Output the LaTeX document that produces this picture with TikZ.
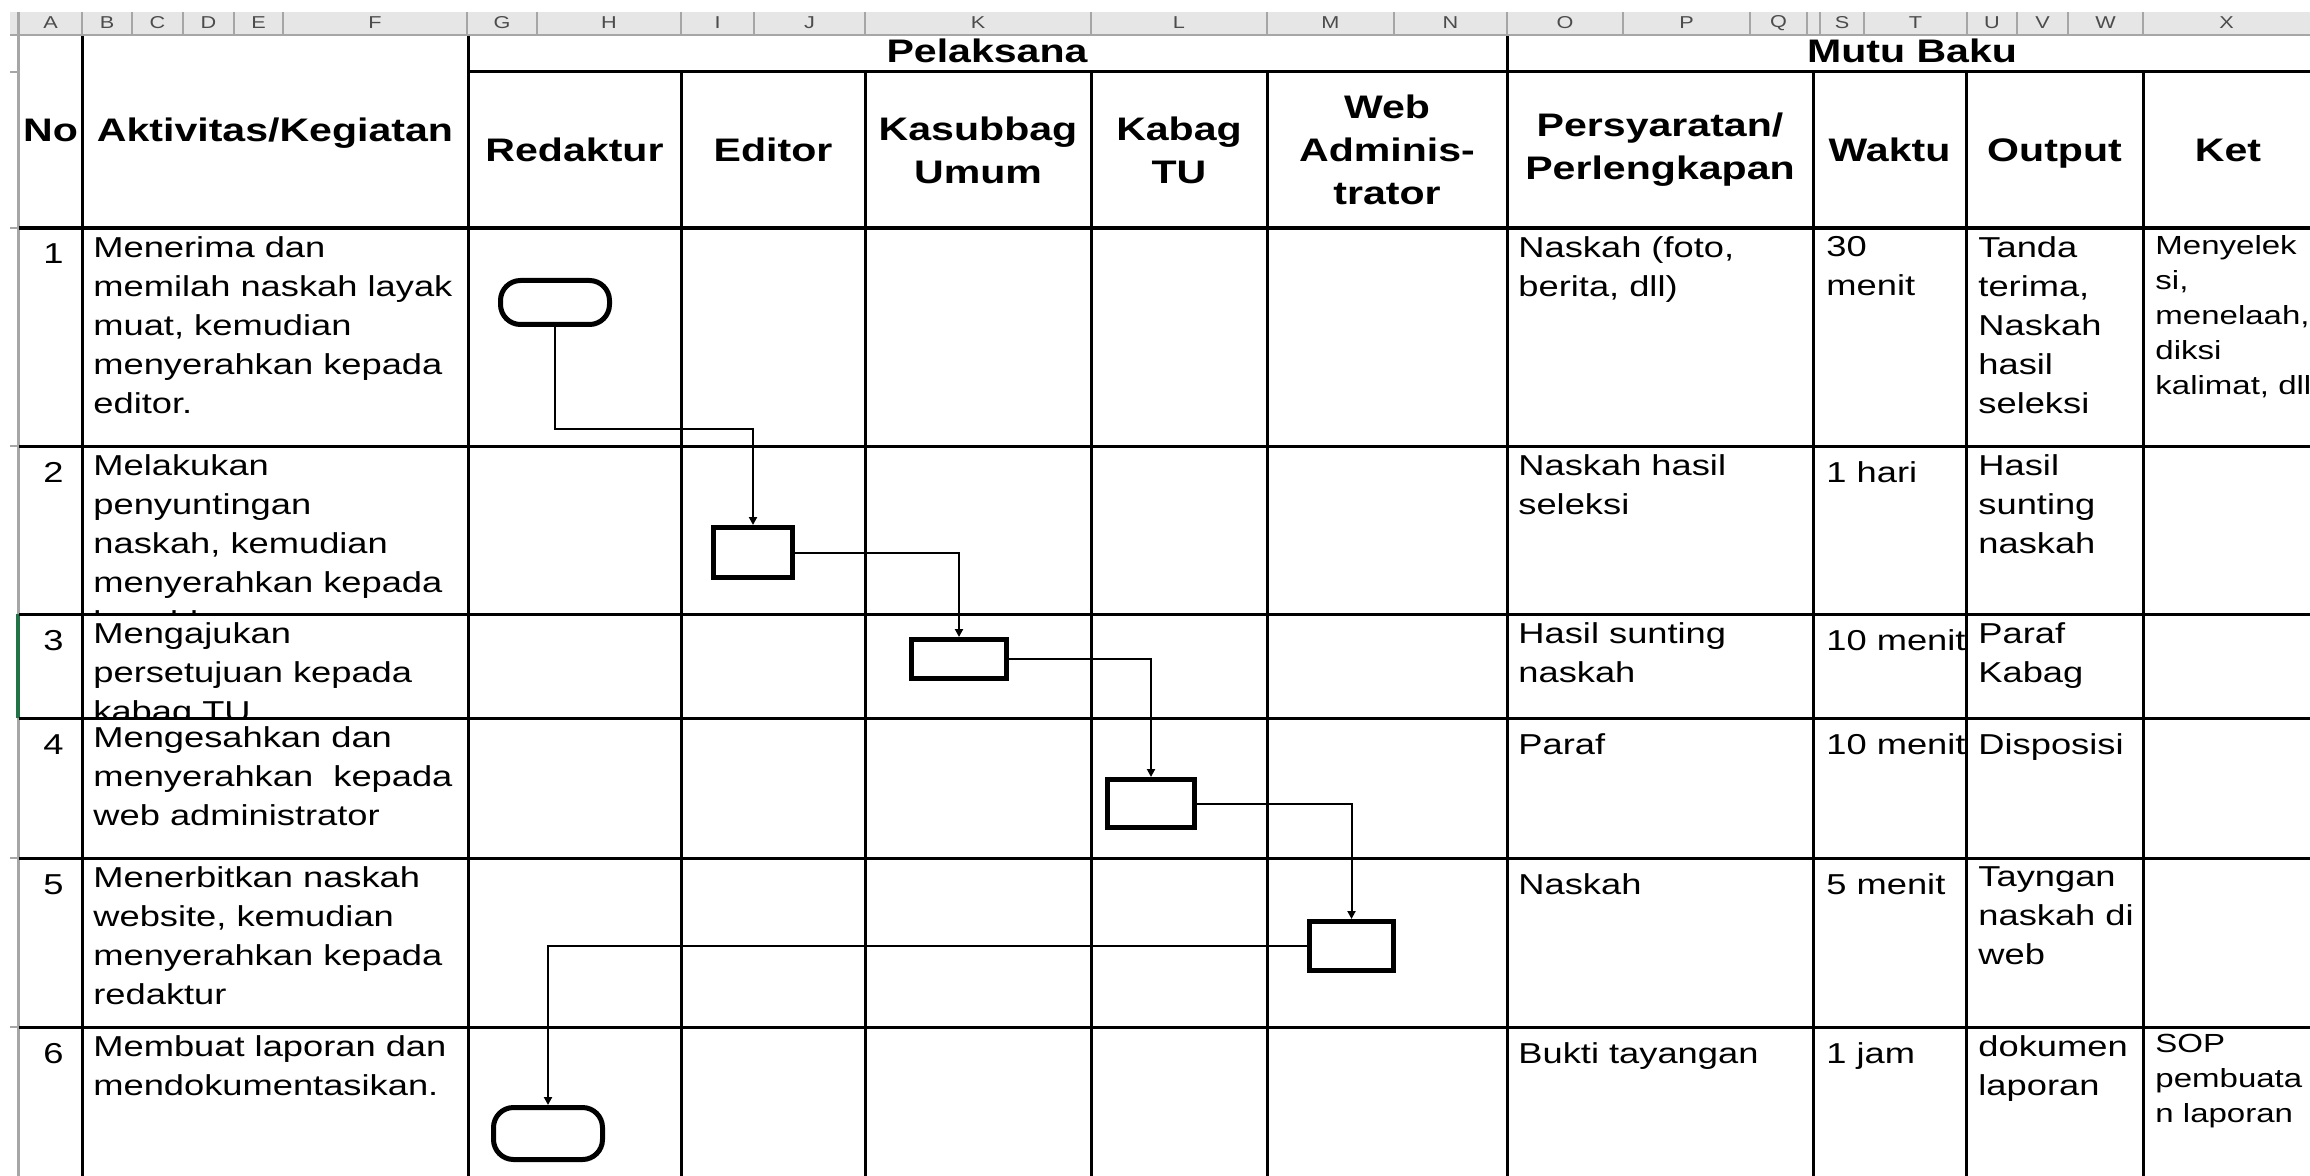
\documentclass[tikz,border=0pt]{standalone}
\usepackage{fontspec}
\setmainfont{Liberation Sans}[FakeStretch=1.26]
\usepackage{tikz}
\usetikzlibrary{arrows.meta}

\definecolor{xlgreen}{HTML}{217346}
\definecolor{xlbar}{HTML}{E6E6E6}
\definecolor{xlgrid}{HTML}{A6A6A6}
\newcommand{\bodyfont}{\fontsize{14.4pt}{19.5pt}\selectfont}
\newcommand{\ketfont}{\fontsize{13.1pt}{17.5pt}\selectfont}
\newcommand{\headfont}{\fontsize{16.3pt}{21.5pt}\selectfont\bfseries}
\newcommand{\colfont}{\fontsize{8.6pt}{10pt}\selectfont}

\begin{document}
\begin{tikzpicture}[x=0.5pt, y=-0.5pt,
    cell/.style={anchor=north west, inner sep=0pt, align=left, font=\bodyfont, execute at begin node=\rule{0pt}{14pt}},
    ket/.style={cell, font=\ketfont},
    num/.style={anchor=base east, inner sep=0pt, font=\bodyfont},
    head/.style={align=center, inner sep=0pt, font=\headfont},
    colhead/.style={inner sep=0pt, font=\colfont, text=black!70},
    grid/.style={line width=1.5pt},
    proc/.style={draw, line width=2.5pt, fill=white, inner sep=0pt},
    term/.style={proc, rounded corners=10pt},
    flow/.style={line width=1pt, -{Triangle[length=4pt, width=4pt]}}]
      \useasboundingbox (0,0) rectangle (2310,1176);

      \fill[xlbar] (10,12) rectangle (2310,36);
      \draw[xlgrid, line width=1pt] (10,35) -- (2310,35);
      \draw[xlgrid, line width=1pt] (82,12) -- (82,36) (132,12) -- (132,36) (183,12) -- (183,36)
        (234,12) -- (234,36) (283,12) -- (283,36) (467,12) -- (467,36) (537,12) -- (537,36)
        (681,12) -- (681,36) (754,12) -- (754,36) (865,12) -- (865,36) (1091,12) -- (1091,36)
        (1267,12) -- (1267,36) (1394,12) -- (1394,36) (1507,12) -- (1507,36) (1623,12) -- (1623,36)
        (1750,12) -- (1750,36) (1807,12) -- (1807,36) (1820,12) -- (1820,36) (1864,12) -- (1864,36)
        (1967,12) -- (1967,36) (2017,12) -- (2017,36) (2068,12) -- (2068,36) (2143,12) -- (2143,36);
      \node[colhead] (hA) at (50.5, 23) {A};
      \node[colhead] (hB) at (107, 23) {B};
      \node[colhead] (hC) at (157.5, 23) {C};
      \node[colhead] (hD) at (208.5, 23) {D};
      \node[colhead] (hE) at (258.5, 23) {E};
      \node[colhead] (hF) at (375, 23) {F};
      \node[colhead] (hG) at (502, 23) {G};
      \node[colhead] (hH) at (609, 23) {H};
      \node[colhead] (hI) at (717.5, 23) {I};
      \node[colhead] (hJ) at (809.5, 23) {J};
      \node[colhead] (hK) at (978, 23) {K};
      \node[colhead] (hL) at (1179, 23) {L};
      \node[colhead] (hM) at (1330.5, 23) {M};
      \node[colhead] (hN) at (1450.5, 23) {N};
      \node[colhead] (hO) at (1565, 23) {O};
      \node[colhead] (hP) at (1686.5, 23) {P};
      \node[colhead] (hQ) at (1778.5, 23) {Q};
      \node[colhead] (hS) at (1842, 23) {S};
      \node[colhead] (hT) at (1915.5, 23) {T};
      \node[colhead] (hU) at (1992, 23) {U};
      \node[colhead] (hV) at (2042.5, 23) {V};
      \node[colhead] (hW) at (2105.5, 23) {W};
      \node[colhead] (hX) at (2226.5, 23) {X};

      \draw[xlgrid, line width=1.5pt] (18.5,12) -- (18.5,1176);
      \draw[xlgrid, line width=1pt] (10,72) -- (19,72) (10,228) -- (19,228) (10,446) -- (19,446)
        (10,858) -- (19,858) (10,1027) -- (19,1027);
      \draw[xlgreen, line width=2pt] (17.5,614) -- (17.5,718);

      \draw[grid] (82,36) -- (82,1176) (468,36) -- (468,1176) (681,72) -- (681,1176)
        (865,72) -- (865,1176) (1091,72) -- (1091,1176) (1267,72) -- (1267,1176)
        (1507,36) -- (1507,1176) (1813,72) -- (1813,1176) (1966,72) -- (1966,1176)
        (2143,72) -- (2143,1176);
      \draw[grid] (468,72) -- (2310,72) (19,446) -- (2310,446) (19,614) -- (2310,614)
        (19,718) -- (2310,718) (19,858) -- (2310,858) (19,1027) -- (2310,1027);
      \draw[line width=2pt] (19,228) -- (2310,228);

      \node[head, anchor=base] (no) at (50.5, 142) {No};
      \node[head, anchor=base] (akt) at (275, 142) {Aktivitas/Kegiatan};
      \node[head, anchor=base] (pel) at (987, 63) {Pelaksana};
      \node[head, anchor=base] (mutu) at (1912, 63) {Mutu Baku};
      \node[head, anchor=base] (red) at (574.5, 162) {Redaktur};
      \node[head, anchor=base] (edi) at (773, 162) {Editor};
      \node[head] (kas) at (978, 150) {Kasubbag\\Umum};
      \node[head] (kab) at (1179, 150) {Kabag\\TU};
      \node[head] (web) at (1387, 150) {Web\\Adminis-\\trator};
      \node[head] (per) at (1660, 150) {Persyaratan/\\Perlengkapan};
      \node[head, anchor=base] (wak) at (1889.5, 162) {Waktu};
      \node[head, anchor=base] (out) at (2054.5, 162) {Output};
      \node[head, anchor=base] (ket) at (2228, 162) {Ket};

      \node[num] (n1) at (64, 264) {1};
      \node[cell] (a1) at (93, 236) {Menerima dan\\memilah naskah layak\\muat, kemudian\\menyerahkan kepada\\editor.};
      \node[cell] (p1) at (1518, 236) {Naskah (foto,\\berita, dll)};
      \node[cell] (w1) at (1826, 236) {30\\menit};
      \node[cell] (o1) at (1978, 236) {Tanda\\terima,\\Naskah\\hasil\\seleksi};
      \node[ket] (k1) at (2155, 235) {Menyelek\\si,\\menelaah,\\diksi\\kalimat, dll};

      \node[num] (n2) at (64, 482) {2};
      \begin{scope}
        \clip (82,446) rectangle (468,614);
        \node[cell] (a2) at (93, 454) {Melakukan\\penyuntingan\\naskah, kemudian\\menyerahkan kepada\\kasubbag umum};
      \end{scope}
      \node[cell] (p2) at (1518, 454) {Naskah hasil\\seleksi};
      \node[cell] (w2) at (1826, 454) {1 hari};
      \node[cell] (o2) at (1978, 454) {Hasil\\sunting\\naskah};

      \node[num] (n3) at (64, 650) {3};
      \begin{scope}
        \clip (82,614) rectangle (468,718);
        \node[cell] (a3) at (93, 622) {Mengajukan\\persetujuan kepada\\kabag TU};
      \end{scope}
      \node[cell] (p3) at (1518, 622) {Hasil sunting\\naskah};
      \node[cell] (w3) at (1826, 622) {10 menit};
      \node[cell] (o3) at (1978, 622) {Paraf\\Kabag};

      \node[num] (n4) at (64, 754) {4};
      \node[cell] (a4) at (93, 726) {Mengesahkan dan\\menyerahkan\ \ kepada\\web administrator};
      \node[cell] (p4) at (1518, 726) {Paraf};
      \node[cell] (w4) at (1826, 726) {10 menit};
      \node[cell] (o4) at (1978, 726) {Disposisi};

      \node[num] (n5) at (64, 894) {5};
      \node[cell] (a5) at (93, 866) {Menerbitkan naskah\\website, kemudian\\menyerahkan kepada\\redaktur};
      \node[cell] (p5) at (1518, 866) {Naskah};
      \node[cell] (w5) at (1826, 866) {5 menit};
      \node[cell] (o5) at (1978, 866) {Tayngan\\naskah di\\web};

      \node[num] (n6) at (64, 1063) {6};
      \node[cell] (a6) at (93, 1035) {Membuat laporan dan\\mendokumentasikan.};
      \node[cell] (p6) at (1518, 1035) {Bukti tayangan};
      \node[cell] (w6) at (1826, 1035) {1 jam};
      \node[cell] (o6) at (1978, 1035) {dokumen\\laporan};
      \node[ket] (k6) at (2155, 1034) {SOP\\pembuata\\n laporan};

      \node[term, minimum width=54.5pt, minimum height=22pt] (1) at (555, 302.5) {};
      \node[proc, minimum width=39.5pt, minimum height=25pt] (2) at (753, 552.5) {};
      \node[proc, minimum width=47.5pt, minimum height=19.5pt] (3) at (959, 659) {};
      \node[proc, minimum width=43.5pt, minimum height=24pt] (4) at (1151, 803.5) {};
      \node[proc, minimum width=42pt, minimum height=24.5pt] (5) at (1351.5, 946) {};
      \node[term, minimum width=54.5pt, minimum height=26pt] (6) at (548, 1133.5) {};

      \draw[flow] (1) -- ++(0,126.5) -| (2);
      \draw[flow] (2) -| (3);
      \draw[flow] (3) -| (4);
      \draw[flow] (4) -| (5);
      \draw[flow] (5) -| (6);
    \end{tikzpicture}
\end{document}
